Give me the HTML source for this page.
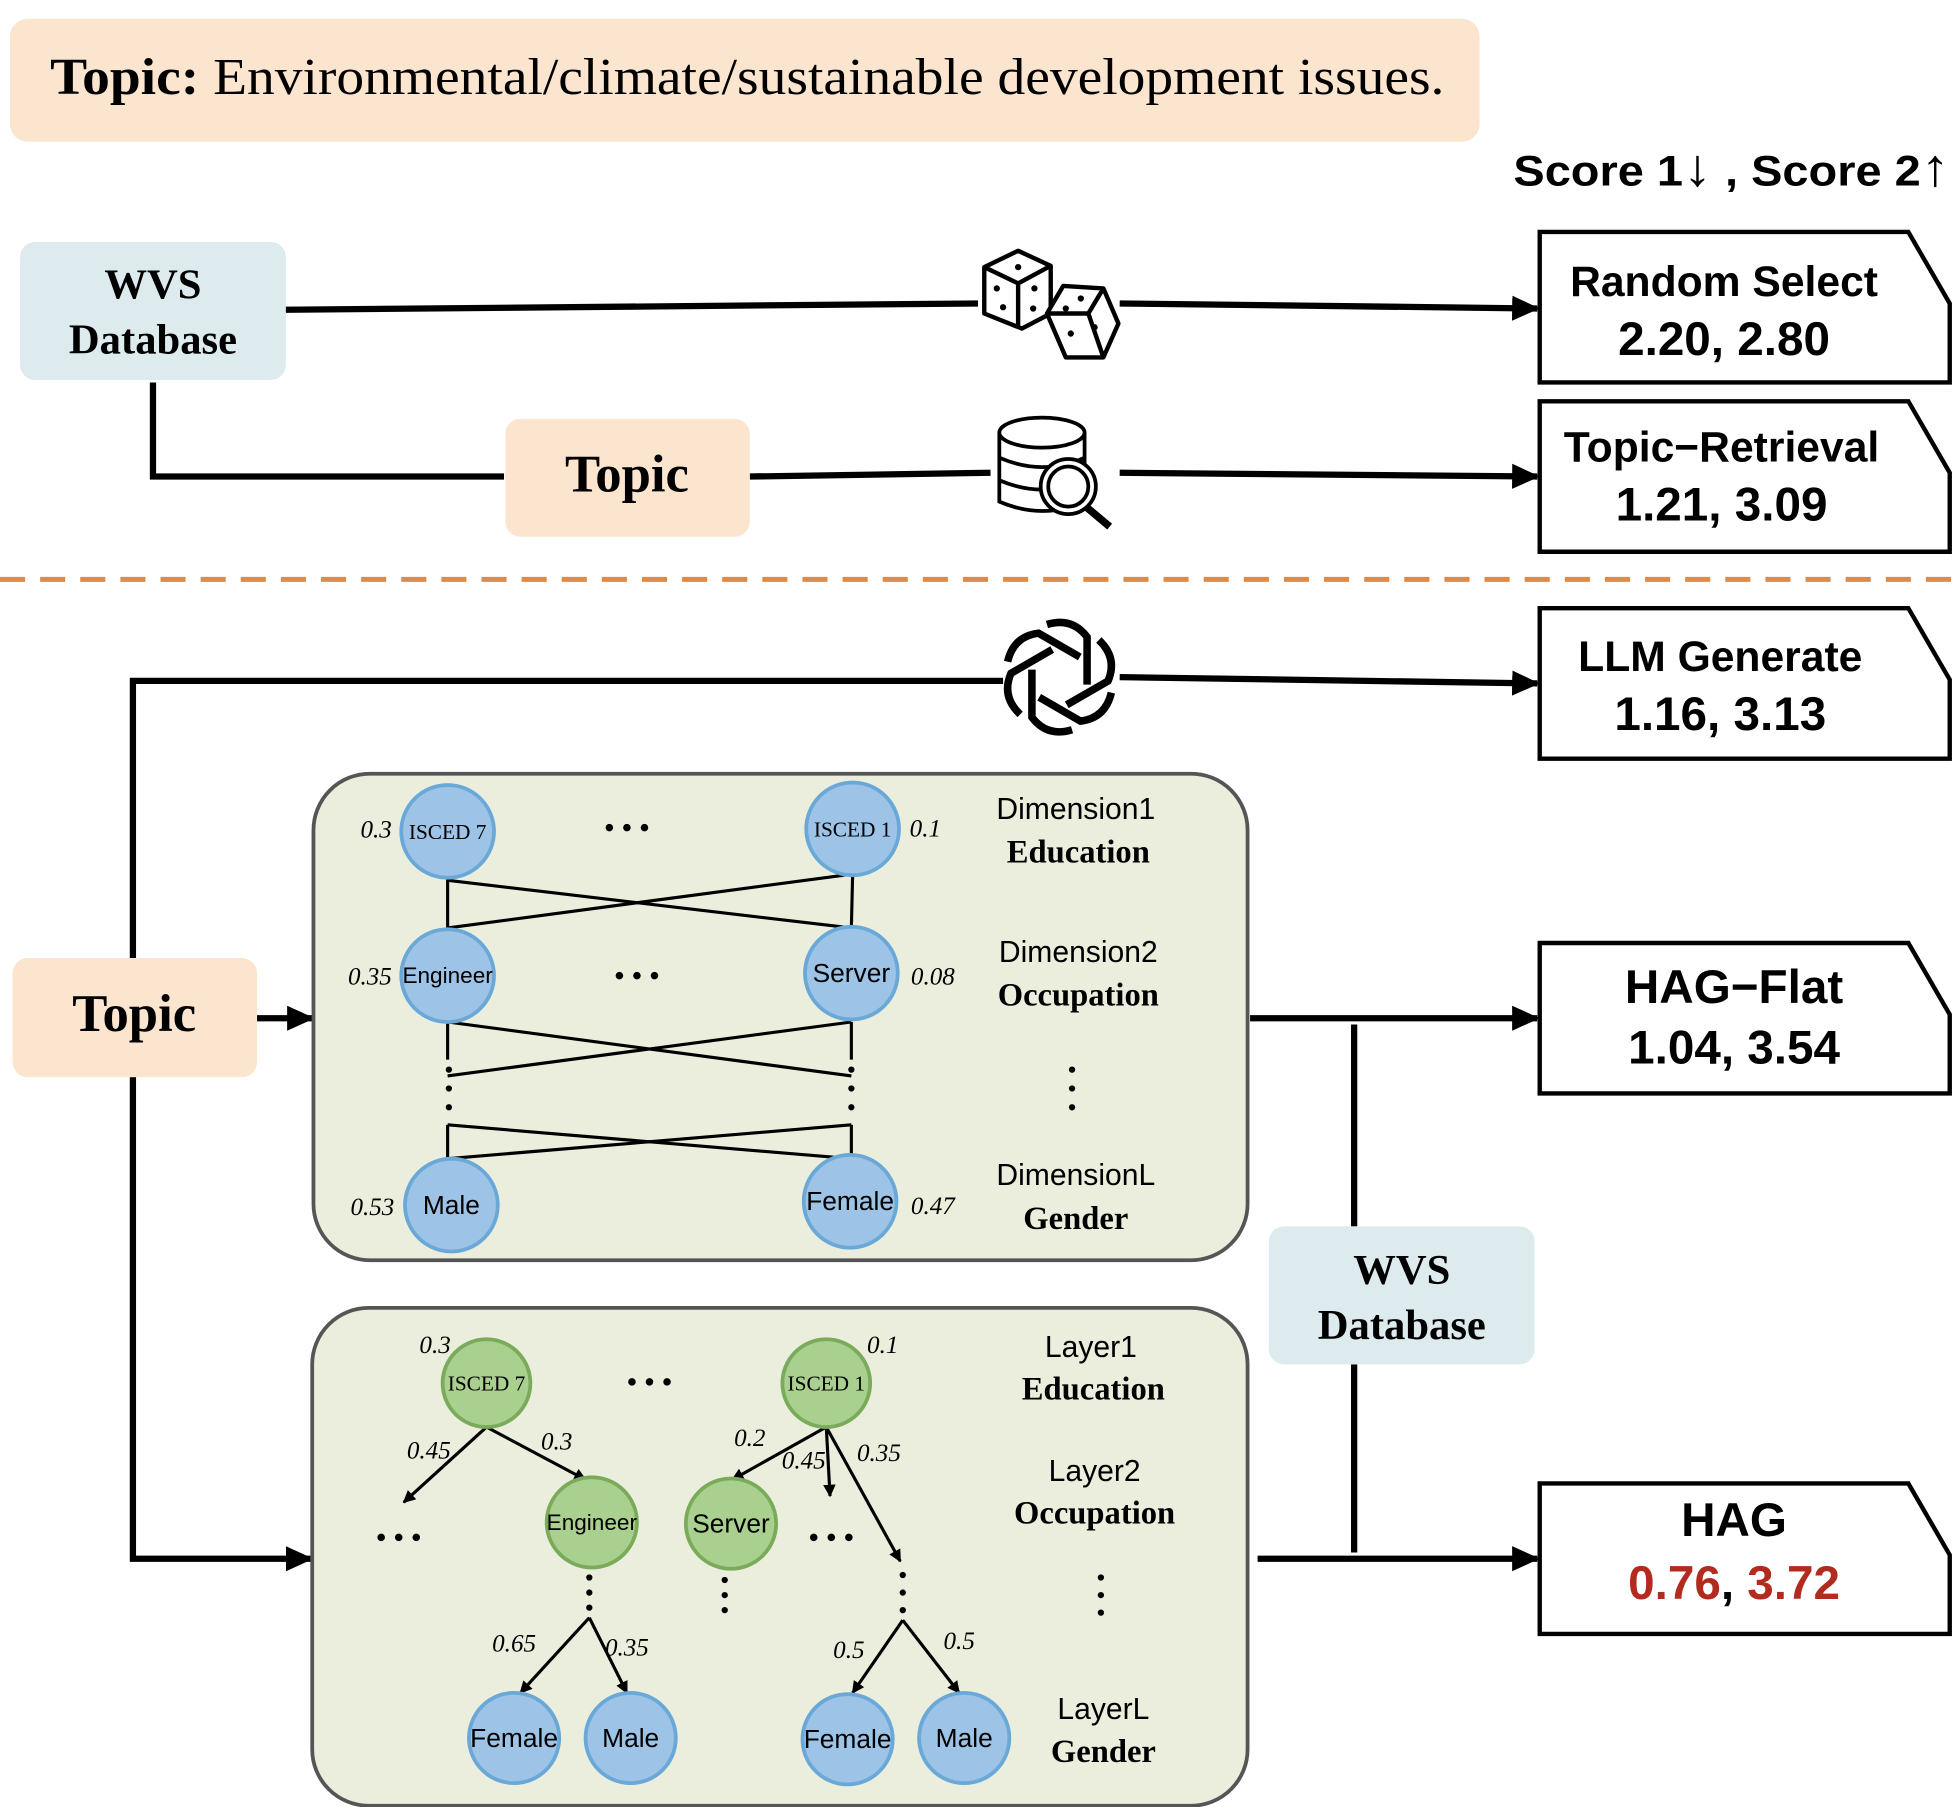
<!DOCTYPE html>
<html><head><meta charset="utf-8"><style>
html,body{margin:0;padding:0;background:#fff;}
svg{display:block;}
.serif{font-family:"Liberation Serif",serif;}
.sans{font-family:"Liberation Sans",sans-serif;}
</style></head><body>
<svg width="1956" height="1807" viewBox="0 0 1560 1441" preserveAspectRatio="none" xmlns="http://www.w3.org/2000/svg">
<defs>
<marker id="ar" markerWidth="10" markerHeight="10" refX="9" refY="5" orient="auto" markerUnits="userSpaceOnUse" viewBox="0 0 10 10">
<path d="M0,0 L10,5 L0,10 z" fill="#000"/></marker>
<marker id="ab" markerWidth="22" markerHeight="22" refX="20" refY="11" orient="auto" markerUnits="userSpaceOnUse" viewBox="0 0 22 22">
<path d="M0,1 L22,11 L0,21 z" fill="#000"/></marker>
</defs>

<rect x="8" y="15" width="1172" height="98" rx="14" fill="#fbe5cf"/>
<text x="40" y="75" class="serif" font-size="41" textLength="1112" lengthAdjust="spacingAndGlyphs"><tspan font-weight="bold">Topic:</tspan> Environmental/climate/sustainable development issues.</text>
<text x="1207" y="148" class="sans" font-size="34" font-weight="bold" textLength="348" lengthAdjust="spacingAndGlyphs">Score 1<tspan font-size="42" font-weight="normal">↓</tspan> , Score 2<tspan font-size="42" font-weight="normal">↑</tspan></text>

<rect x="16" y="193" width="212" height="110" rx="12" fill="#deebee"/>
<text x="122" y="238" text-anchor="middle" class="serif" font-size="34" font-weight="bold">WVS</text>
<text x="122" y="282" text-anchor="middle" class="serif" font-size="34" font-weight="bold">Database</text>

<g stroke="#000" stroke-width="5" fill="none">
<line x1="228" y1="247" x2="780" y2="242"/>
<line x1="893" y1="242" x2="1226" y2="246" marker-end="url(#ab)"/>
<polyline points="122,305 122,380 402,380"/>
<line x1="598" y1="380" x2="790" y2="377"/>
<line x1="893" y1="377" x2="1226" y2="380" marker-end="url(#ab)"/>
<polyline points="106,765 106,543 800,543"/>
<line x1="893" y1="540" x2="1226" y2="545" marker-end="url(#ab)"/>
<line x1="205" y1="812" x2="249" y2="812" marker-end="url(#ab)"/>
<polyline points="106,859 106,1243 248,1243" marker-end="url(#ab)"/>
<line x1="997" y1="812" x2="1226" y2="812" marker-end="url(#ab)"/>
<line x1="1080" y1="817" x2="1080" y2="978"/>
<line x1="1080" y1="1088" x2="1080" y2="1238"/>
<line x1="1003" y1="1243" x2="1226" y2="1243" marker-end="url(#ab)"/>
</g>

<rect x="403" y="334" width="195" height="94" rx="12" fill="#fbe5cf"/>
<text x="500" y="392" text-anchor="middle" class="serif" font-size="42" font-weight="bold">Topic</text>

<g stroke="#000" stroke-width="3.5" fill="#fff" stroke-linejoin="round">
<path d="M785,213 L812,200 L838,212 L838,250 L815,262 L785,250 Z"/>
<path d="M785,213 L812,226 L838,212 M812,226 L812,262"/>
<path d="M835,250 L848,228 L880,230 L892,258 L880,285 L850,285 Z"/>
<path d="M835,250 L868,250 L880,230 M868,250 L880,285"/>
</g>
<g fill="#000"><circle cx="812" cy="213" r="2.5"/><circle cx="795" cy="230" r="2.5"/><circle cx="800" cy="245" r="2.5"/><circle cx="825" cy="230" r="2.5"/><circle cx="824" cy="246" r="2.5"/><circle cx="850" cy="246" r="2.5"/><circle cx="862" cy="238" r="2.5"/><circle cx="854" cy="266" r="2.5"/><circle cx="873" cy="261" r="2.5"/></g>

<g stroke="#000" stroke-width="3" fill="#fff">
<path d="M797,345 L797,400 Q832,415 865,400 L865,345"/>
<ellipse cx="831" cy="345" rx="34" ry="12"/>
<path d="M797,365 Q832,380 865,365 M797,383 Q832,398 865,383" fill="none"/>
<line x1="866" y1="404" x2="885" y2="420" stroke-width="6"/>
<circle cx="852" cy="388" r="22"/>
<circle cx="852" cy="388" r="16"/>
</g>

<line x1="0" y1="462" x2="1560" y2="462" stroke="#e08a45" stroke-width="4" stroke-dasharray="20,12"/>

<g transform="translate(845,540)" stroke="#000" stroke-width="6" fill="none">
<g id="pet"><path d="M-10,-42 Q10,-48 22,-32 L22,6"/></g>
<use href="#pet" transform="rotate(60)"/><use href="#pet" transform="rotate(120)"/><use href="#pet" transform="rotate(180)"/><use href="#pet" transform="rotate(240)"/><use href="#pet" transform="rotate(300)"/>
</g>

<g stroke="#000" stroke-width="3.5" fill="#fff">
<path d="M1228,185 L1522,185 L1555,242 L1555,305 L1228,305 Z"/>
<path d="M1228,320 L1522,320 L1555,377 L1555,440 L1228,440 Z"/>
<path d="M1228,485 L1522,485 L1555,542 L1555,605 L1228,605 Z"/>
<path d="M1228,752 L1522,752 L1555,809 L1555,872 L1228,872 Z"/>
<path d="M1228,1183 L1522,1183 L1555,1240 L1555,1303 L1228,1303 Z"/>
</g>
<g class="sans" text-anchor="middle" font-weight="bold">
<text x="1375" y="236" font-size="34">Random Select</text>
<text x="1375" y="283" font-size="38">2.20, 2.80</text>
<text x="1373" y="368" font-size="34">Topic−Retrieval</text>
<text x="1373" y="415" font-size="38">1.21, 3.09</text>
<text x="1372" y="535" font-size="34">LLM Generate</text>
<text x="1372" y="582" font-size="38">1.16, 3.13</text>
<text x="1383" y="800" font-size="38">HAG−Flat</text>
<text x="1383" y="848" font-size="38">1.04, 3.54</text>
<text x="1383" y="1225" font-size="38">HAG</text>
<text x="1383" y="1275" font-size="38" fill="#b22b1e">0.76<tspan fill="#000">,</tspan> 3.72</text>
</g>

<rect x="10" y="764" width="195" height="95" rx="12" fill="#fbe5cf"/>
<text x="107" y="822" text-anchor="middle" class="serif" font-size="42" font-weight="bold">Topic</text>

<rect x="1012" y="978" width="212" height="110" rx="12" fill="#deebee"/>
<text x="1118" y="1024" text-anchor="middle" class="serif" font-size="34" font-weight="bold">WVS</text>
<text x="1118" y="1068" text-anchor="middle" class="serif" font-size="34" font-weight="bold">Database</text>

<rect x="250" y="617" width="745" height="388" rx="45" fill="#ebeedd" stroke="#555" stroke-width="3"/>
<g stroke="#000" stroke-width="2.5" fill="none">
<line x1="357" y1="700" x2="357" y2="742"/><line x1="680" y1="698" x2="679" y2="740"/>
<line x1="357" y1="702" x2="679" y2="740"/><line x1="357" y1="740" x2="680" y2="697"/>
<line x1="357" y1="815" x2="357" y2="845"/><line x1="679" y1="815" x2="679" y2="845"/>
<line x1="357" y1="815" x2="679" y2="858"/><line x1="679" y1="815" x2="357" y2="858"/>
<line x1="357" y1="897" x2="357" y2="924"/><line x1="679" y1="897" x2="679" y2="924"/>
<line x1="357" y1="897" x2="679" y2="924"/><line x1="357" y1="924" x2="679" y2="897"/>
</g>
<g fill="#000">
<circle cx="358" cy="853" r="2.5"/><circle cx="358" cy="868" r="2.5"/><circle cx="358" cy="883" r="2.5"/>
<circle cx="679" cy="853" r="2.5"/><circle cx="679" cy="868" r="2.5"/><circle cx="679" cy="883" r="2.5"/>
<circle cx="855" cy="853" r="2.5"/><circle cx="855" cy="868" r="2.5"/><circle cx="855" cy="883" r="2.5"/>
<circle cx="486" cy="660" r="3"/><circle cx="500" cy="660" r="3"/><circle cx="514" cy="660" r="3"/>
<circle cx="494" cy="778" r="3"/><circle cx="508" cy="778" r="3"/><circle cx="522" cy="778" r="3"/>
</g>
<g fill="#9dc3e6" stroke="#6aa8d8" stroke-width="3">
<circle cx="357" cy="663" r="37"/><circle cx="680" cy="661" r="37"/>
<circle cx="357" cy="778" r="37"/><circle cx="679" cy="776" r="37"/>
<circle cx="360" cy="961" r="37"/><circle cx="678" cy="958" r="37"/>
</g>
<g text-anchor="middle">
<text x="357" y="669" class="serif" font-size="17">ISCED 7</text>
<text x="680" y="667" class="serif" font-size="17">ISCED 1</text>
<text x="357" y="784" class="sans" font-size="18">Engineer</text>
<text x="679" y="783" class="sans" font-size="21">Server</text>
<text x="360" y="968" class="sans" font-size="21">Male</text>
<text x="678" y="965" class="sans" font-size="21">Female</text>
</g>
<g class="serif" font-style="italic" font-size="20" text-anchor="middle">
<text x="300" y="668">0.3</text><text x="738" y="667">0.1</text>
<text x="295" y="785">0.35</text><text x="744" y="785">0.08</text>
<text x="297" y="969">0.53</text><text x="744" y="968">0.47</text>
</g>
<g text-anchor="middle">
<text x="858" y="653" class="sans" font-size="24">Dimension1</text>
<text x="860" y="688" class="serif" font-size="26" font-weight="bold">Education</text>
<text x="860" y="767" class="sans" font-size="24">Dimension2</text>
<text x="860" y="802" class="serif" font-size="26" font-weight="bold">Occupation</text>
<text x="858" y="945" class="sans" font-size="24">DimensionL</text>
<text x="858" y="980" class="serif" font-size="26" font-weight="bold">Gender</text>
</g>

<rect x="249" y="1043" width="746" height="397" rx="45" fill="#ebeedd" stroke="#555" stroke-width="3"/>
<g stroke="#000" stroke-width="2.5" fill="none">
<line x1="388" y1="1138" x2="322" y2="1198" marker-end="url(#ar)"/>
<line x1="388" y1="1138" x2="467" y2="1180" marker-end="url(#ar)"/>
<line x1="659" y1="1138" x2="584" y2="1180" marker-end="url(#ar)"/>
<line x1="659" y1="1138" x2="662" y2="1193" marker-end="url(#ar)"/>
<line x1="659" y1="1138" x2="718" y2="1245" marker-end="url(#ar)"/>
<line x1="470" y1="1290" x2="415" y2="1350" marker-end="url(#ar)"/>
<line x1="470" y1="1290" x2="500" y2="1350" marker-end="url(#ar)"/>
<line x1="720" y1="1292" x2="680" y2="1350" marker-end="url(#ar)"/>
<line x1="720" y1="1292" x2="765" y2="1350" marker-end="url(#ar)"/>
</g>
<g fill="#000">
<circle cx="470" cy="1258" r="2.5"/><circle cx="470" cy="1270" r="2.5"/><circle cx="470" cy="1282" r="2.5"/>
<circle cx="578" cy="1260" r="2.5"/><circle cx="578" cy="1272" r="2.5"/><circle cx="578" cy="1284" r="2.5"/>
<circle cx="720" cy="1256" r="2.5"/><circle cx="720" cy="1270" r="2.5"/><circle cx="720" cy="1284" r="2.5"/>
<circle cx="878" cy="1258" r="2.5"/><circle cx="878" cy="1272" r="2.5"/><circle cx="878" cy="1286" r="2.5"/>
<circle cx="504" cy="1102" r="3"/><circle cx="518" cy="1102" r="3"/><circle cx="532" cy="1102" r="3"/>
<circle cx="304" cy="1226" r="3"/><circle cx="318" cy="1226" r="3"/><circle cx="332" cy="1226" r="3"/>
<circle cx="649" cy="1226" r="3"/><circle cx="663" cy="1226" r="3"/><circle cx="677" cy="1226" r="3"/>
</g>
<g fill="#a9d08e" stroke="#7aab5a" stroke-width="3">
<circle cx="388" cy="1103" r="35"/><circle cx="659" cy="1103" r="35"/>
<circle cx="472" cy="1214" r="36"/><circle cx="583" cy="1215" r="36"/>
</g>
<g fill="#9dc3e6" stroke="#6aa8d8" stroke-width="3">
<circle cx="410" cy="1386" r="36"/><circle cx="503" cy="1386" r="36"/>
<circle cx="676" cy="1387" r="36"/><circle cx="769" cy="1386" r="36"/>
</g>
<g text-anchor="middle">
<text x="388" y="1109" class="serif" font-size="17">ISCED 7</text>
<text x="659" y="1109" class="serif" font-size="17">ISCED 1</text>
<text x="472" y="1220" class="sans" font-size="18">Engineer</text>
<text x="583" y="1222" class="sans" font-size="21">Server</text>
<text x="410" y="1393" class="sans" font-size="21">Female</text>
<text x="503" y="1393" class="sans" font-size="21">Male</text>
<text x="676" y="1394" class="sans" font-size="21">Female</text>
<text x="769" y="1393" class="sans" font-size="21">Male</text>
</g>
<g class="serif" font-style="italic" font-size="20" text-anchor="middle">
<text x="347" y="1079">0.3</text><text x="704" y="1079">0.1</text>
<text x="342" y="1163">0.45</text><text x="444" y="1156">0.3</text>
<text x="598" y="1153">0.2</text><text x="641" y="1171">0.45</text><text x="701" y="1165">0.35</text>
<text x="410" y="1317">0.65</text><text x="500" y="1320">0.35</text>
<text x="677" y="1322">0.5</text><text x="765" y="1315">0.5</text>
</g>
<g text-anchor="middle">
<text x="870" y="1082" class="sans" font-size="24">Layer1</text>
<text x="872" y="1116" class="serif" font-size="26" font-weight="bold">Education</text>
<text x="873" y="1181" class="sans" font-size="24">Layer2</text>
<text x="873" y="1215" class="serif" font-size="26" font-weight="bold">Occupation</text>
<text x="880" y="1371" class="sans" font-size="24">LayerL</text>
<text x="880" y="1405" class="serif" font-size="26" font-weight="bold">Gender</text>
</g>
</svg>
</body></html>
